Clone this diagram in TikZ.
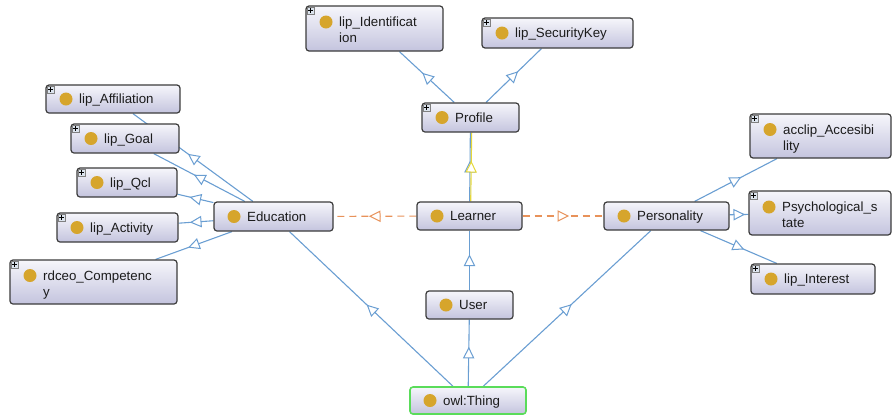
\documentclass[tikz,border=0pt]{standalone}
\usepackage{fontspec}
\setmainfont{Liberation Sans}
\usetikzlibrary{fit,decorations.markings}

\definecolor{isablue}{HTML}{6A9ED2}
\definecolor{dashorange}{HTML}{E8925A}
\definecolor{linkyellow}{HTML}{E6D83A}
\definecolor{dotgold}{HTML}{D6A52C}
\definecolor{boxtop}{HTML}{F6F6FB}
\definecolor{boxbottom}{HTML}{C4C4DE}
\definecolor{boxedge}{HTML}{3C3C3C}
\definecolor{thinggreen}{HTML}{5ADC5A}
\definecolor{plusfill}{HTML}{DCE4EE}
\definecolor{labelink}{HTML}{1C1C1C}

\pgfdeclarelayer{background}
\pgfsetlayers{background,main}

\tikzset{
  x=1pt, y=-1pt,
  clsbox/.style={draw=boxedge, line width=1.2pt, rounded corners=3pt,
    top color=boxtop, bottom color=boxbottom, inner sep=0pt},
  thingbox/.style={draw=thinggreen, line width=1.6pt},
  plainbox/.style={},
  clsdot/.style={circle, fill=dotgold, minimum size=13pt, inner sep=0pt},
  clstext/.style={anchor=base west, inner sep=0pt, text=labelink,
    font=\fontsize{13.3}{16}\selectfont},
  plusbox/.style={draw=gray, line width=0.5pt, fill=plusfill,
    minimum size=7pt, inner sep=0pt, anchor=north west},
  midtri/.style={postaction={decorate}, decoration={markings,
    mark=at position 0.5 with {\draw[solid, fill=white, line width=1pt, line join=miter]
      (5pt,0pt) -- (-5pt,5pt) -- (-5pt,-5pt) -- cycle;}}},
  isa/.style={draw=isablue, line width=1.1pt, midtri},
  yellowlink/.style={draw=linkyellow, line width=1.1pt, midtri},
  dashlink/.style={draw=dashorange, line width=1.1pt,
    dash pattern=on 7pt off 5pt, midtri},
}

% class box: name, x1, y1, x2, y2, box style, first line centre y, label
\newcommand\owlclass[8]{%
  \node[clsbox,#6,fit={(#2,#3) (#4,#5)}] (#1) {};
  \node[clsdot] (#1-dot) at (#2+20,#7) {};
  \node[clstext] (#1-text) at (#2+33,#7+4.5) {#8};
}
% expand marker in the top left corner
\newcommand\owlplus[1]{%
  \node[plusbox] (#1-plus) at ([xshift=1.5pt,yshift=-1.5pt]#1.north west) {};
  \draw[black, line width=0.6pt]
    ([xshift=-2.2pt]#1-plus.center) -- ([xshift=2.2pt]#1-plus.center)
    ([yshift=-2.2pt]#1-plus.center) -- ([yshift=2.2pt]#1-plus.center);
}

\begin{document}
\begin{tikzpicture}
\useasboundingbox (0,0) rectangle (893,416);

% top branch
\owlclass{ident}{306}{6}{443}{51}{plainbox}{22}{lip\_Identificat}
\node[clstext] (ident-text2) at (339,42.5) {ion};
\owlplus{ident}
\owlclass{seckey}{482}{18}{633}{48}{plainbox}{33}{lip\_SecurityKey}
\owlplus{seckey}
\owlclass{profile}{422}{103}{519}{132}{plainbox}{117.5}{Profile}
\owlplus{profile}

% left branch
\owlclass{affil}{46}{85}{180}{113}{plainbox}{99}{lip\_Affiliation}
\owlplus{affil}
\owlclass{goal}{71}{124}{179}{153}{plainbox}{138.5}{lip\_Goal}
\owlplus{goal}
\owlclass{qcl}{77}{168}{177}{197}{plainbox}{182.5}{lip\_Qcl}
\owlplus{qcl}
\owlclass{activity}{57}{213}{178}{242}{plainbox}{227.5}{lip\_Activity}
\owlplus{activity}
\owlclass{compet}{10}{260}{177}{304}{plainbox}{275.5}{rdceo\_Competenc}
\node[clstext] (compet-text2) at (43,296) {y};
\owlplus{compet}
\owlclass{edu}{214}{202}{333}{231}{plainbox}{216.5}{Education}

% centre column
\owlclass{learner}{417}{202}{522}{230}{plainbox}{216}{Learner}
\owlclass{user}{426}{291}{513}{319}{plainbox}{305}{User}
\owlclass{thing}{410}{387}{526}{414}{thingbox}{400.5}{owl:Thing}

% right branch
\owlclass{pers}{604}{202}{729}{230}{plainbox}{216}{Personality}
\owlclass{access}{750}{114}{891}{158}{plainbox}{129.5}{acclip\_Accesibi}
\node[clstext] (access-text2) at (783,150) {lity};
\owlplus{access}
\owlclass{psych}{749}{191}{891}{235}{plainbox}{207}{Psychological\_s}
\node[clstext] (psych-text2) at (782,227.5) {tate};
\owlplus{psych}
\owlclass{interest}{751}{264}{875}{294}{plainbox}{279}{lip\_Interest}
\owlplus{interest}

\begin{pgfonlayer}{background}
  \draw[isa] (profile) -- (ident);
  \draw[isa] (profile) -- (seckey);
  \draw[isa] (learner) -- (profile);
  \draw[yellowlink] ([xshift=1.2pt]learner.north) -- ([xshift=1.2pt]profile.south);

  \draw[isa] (edu) -- (affil);
  \draw[isa] (edu) -- (goal);
  \draw[isa] (edu) -- (qcl);
  \draw[isa] (edu) -- (activity);
  \draw[isa] (edu) -- (compet);

  \draw[isa] (pers) -- (access);
  \draw[isa] (pers) -- (psych);
  \draw[isa] (pers) -- (interest);

  \draw[dashlink] (learner) -- (edu);
  \draw[dashlink] (learner) -- (pers);

  \draw[isa] (user) -- (learner);
  \draw[isa] (thing) -- (user);
  \draw[isa] (thing) -- (edu);
  \draw[isa] (thing) -- (pers);
\end{pgfonlayer}
\end{tikzpicture}
\end{document}
